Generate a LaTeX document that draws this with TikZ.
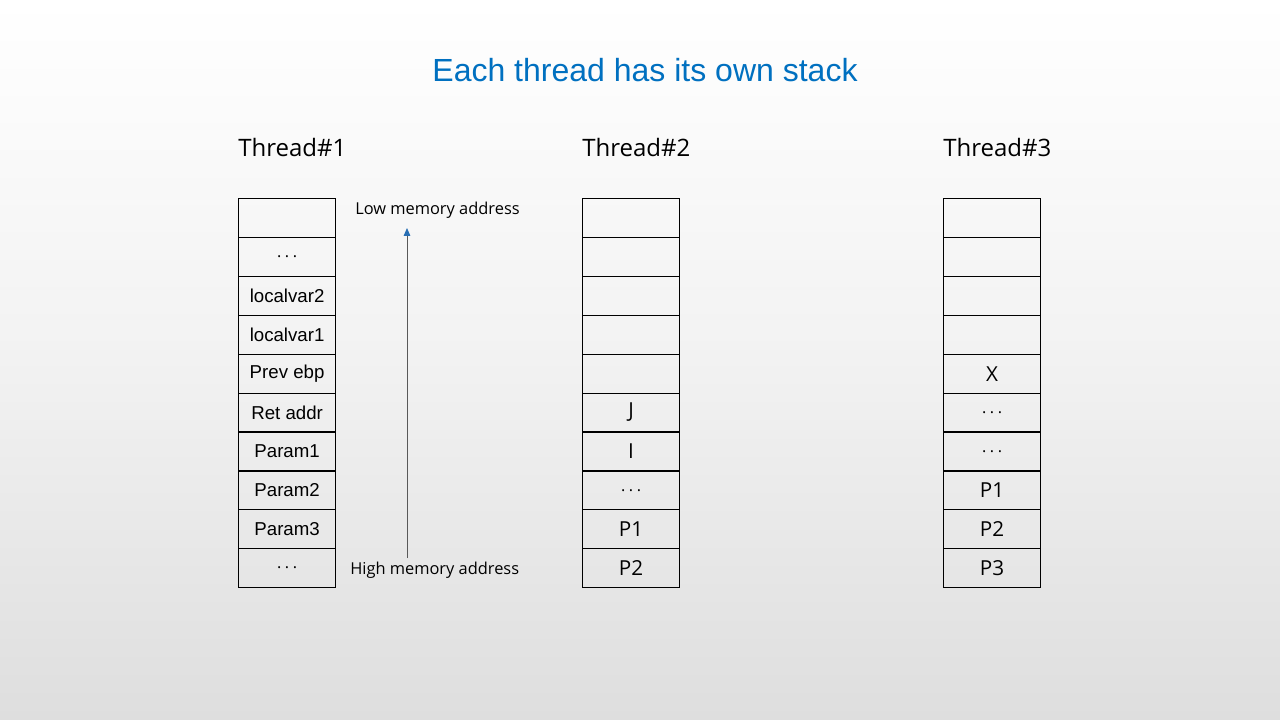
\documentclass[tikz,border=0pt]{standalone}
\usepackage{fontspec}
\setmainfont{Liberation Sans}
\newfontfamily\hum{Open Sans}
\usetikzlibrary{arrows.meta}
\definecolor{titleblue}{RGB}{0,112,192}
\definecolor{bgbot}{RGB}{222,222,222}
\definecolor{arrowblue}{RGB}{40,110,180}
\newcommand\mydots{{\hum\fontsize{12pt}{14pt}\selectfont.\kern0.22em.\kern0.22em.}}
\begin{document}
\begin{tikzpicture}[x=0.75pt,y=-0.75pt,
  cell/.style={draw=black,line width=0.9pt,minimum width=97*0.75pt,minimum height=38.9*0.75pt,inner sep=0pt,anchor=north west,fill=none},
  arialtxt/.style={font=\fontsize{14pt}{16pt}\selectfont},
  humtxt/.style={font=\hum\fontsize{15.5pt}{17pt}\selectfont},
  thlabel/.style={font=\hum\fontsize{18pt}{21pt}\selectfont,anchor=west,inner sep=0pt},
  addr/.style={font=\hum\fontsize{12.3pt}{14pt}\selectfont,anchor=west,inner sep=0pt}]
\useasboundingbox (0,0) rectangle (1280,720);
\shade[top color=white,bottom color=bgbot,middle color=white!60!bgbot] (0,0) rectangle (1280,720);
\node[font=\fontsize{24pt}{28pt}\selectfont,text=titleblue] (title) at (645,70) {Each thread has its own stack};
\node[thlabel] (t1) at (238,148) {Thread\#1};
\node[thlabel] (t2) at (582,148) {Thread\#2};
\node[thlabel] (t3) at (943,148) {Thread\#3};
% Thread 1
\foreach \i/\t in {0/{},1/{\mydots},2/localvar2,3/localvar1,4/Prev ebp,5/Ret addr,6/Param1,7/Param2,8/Param3,9/{\mydots}}{
  \node[cell,arialtxt] (a\i) at (238,198+\i*38.9) {\t};
}
% Thread 2
\foreach \i/\t in {0/{},1/{},2/{},3/{},4/{},5/J,6/I,7/{\mydots},8/P1,9/P2}{
  \node[cell,humtxt] (b\i) at (582,198+\i*38.9) {\t};
}
% Thread 3
\foreach \i/\t in {0/{},1/{},2/{},3/{},4/X,5/{\mydots},6/{\mydots},7/P1,8/P2,9/P3}{
  \node[cell,humtxt] (c\i) at (943,198+\i*38.9) {\t};
}
\node[addr] (low) at (355,210) {Low memory address};
\node[addr] (high) at (350,570) {High memory address};
\coordinate (as) at (407,558);
\coordinate (ae) at (407,228);
\draw[gray!70!black,line width=0.6pt,-{Triangle[length=6pt,width=5pt,fill=arrowblue,color=arrowblue]}] (as) -- (ae);
\end{tikzpicture}
\end{document}
